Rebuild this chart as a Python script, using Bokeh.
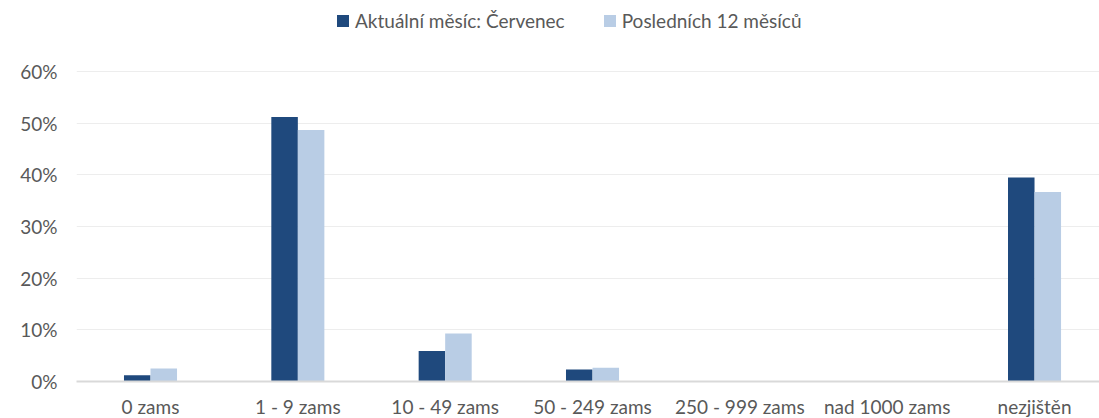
from bokeh.plotting import figure
from bokeh.models import (ColumnDataSource, Range1d, FixedTicker, NumeralTickFormatter,
                          Legend, LegendItem)
from bokeh.embed import file_html
from bokeh.resources import INLINE

categories = ["0 zams", "1 - 9 zams", "10 - 49 zams", "50 - 249 zams",
              "250 - 999 zams", "nad 1000 zams", "nezjištěn"]
current_month = [0.012, 0.512, 0.059, 0.023, 0.0, 0.0, 0.395]
last_12_months = [0.025, 0.487, 0.093, 0.0265, 0.0, 0.0, 0.367]
series_names = ["Aktuální měsíc: Červenec", "Posledních 12 měsíců"]
y_ticks = [0.0, 0.1, 0.2, 0.3, 0.4, 0.5, 0.6]

DARK = "#1F497D"
LIGHT = "#B9CDE5"
TEXT = "#595959"
FONT = "Lato"
FS = "19px"

idx = list(range(len(categories)))
bw = 0.18
src = ColumnDataSource(dict(
    x_dark=[i - bw / 2 for i in idx],
    x_light=[i + bw / 2 for i in idx],
    cur=current_month,
    last=last_12_months,
))

# frame spans from the top of the canvas; gridlines only up to 60%
p = figure(frame_width=1023, frame_height=381, output_backend="svg",
           toolbar_location=None, min_border_left=76, min_border_top=0,
           min_border_right=0, min_border_bottom=10,
           x_range=Range1d(-0.5023, 6.441), y_range=Range1d(0, 0.7374))
p.outline_line_color = None
p.background_fill_color = "white"
p.border_fill_color = "white"

r1 = p.vbar(x="x_dark", top="cur", width=bw, source=src, fill_color=DARK, line_color=None)
r2 = p.vbar(x="x_light", top="last", width=bw, source=src, fill_color=LIGHT, line_color=None)

p.xgrid.visible = False
p.ygrid.ticker = FixedTicker(ticks=y_ticks)
p.ygrid.grid_line_color = "#EDEDED"
p.ygrid.grid_line_width = 1

xa = p.xaxis[0]
xa.ticker = FixedTicker(ticks=idx)
xa.major_label_overrides = {i: c for i, c in zip(idx, categories)}
xa.axis_line_color = "#D9D9D9"
xa.axis_line_width = 2
xa.major_tick_line_color = None
xa.minor_tick_line_color = None
xa.major_tick_out = 0
xa.major_tick_in = 0
xa.major_label_standoff = 13
xa.major_label_text_font = FONT
xa.major_label_text_font_size = FS
xa.major_label_text_color = TEXT

ya = p.yaxis[0]
ya.ticker = FixedTicker(ticks=y_ticks)
ya.formatter = NumeralTickFormatter(format="0%")
ya.axis_line_color = None
ya.major_tick_line_color = None
ya.minor_tick_line_color = None
ya.major_tick_out = 0
ya.major_tick_in = 0
ya.major_label_standoff = 19
ya.major_label_text_font = FONT
ya.major_label_text_font_size = FS
ya.major_label_text_color = TEXT

legend = Legend(items=[LegendItem(label=series_names[0], renderers=[r1]),
                       LegendItem(label=series_names[1], renderers=[r2])],
                orientation="horizontal", location=(259, 349),
                padding=0, margin=0, spacing=37, label_standoff=5,
                glyph_width=15, glyph_height=15,
                border_line_color=None, background_fill_alpha=0,
                label_text_font=FONT, label_text_font_size=FS,
                label_text_color=TEXT)
p.add_layout(legend, "center")

open("out.html", "w").write(file_html(p, INLINE))
